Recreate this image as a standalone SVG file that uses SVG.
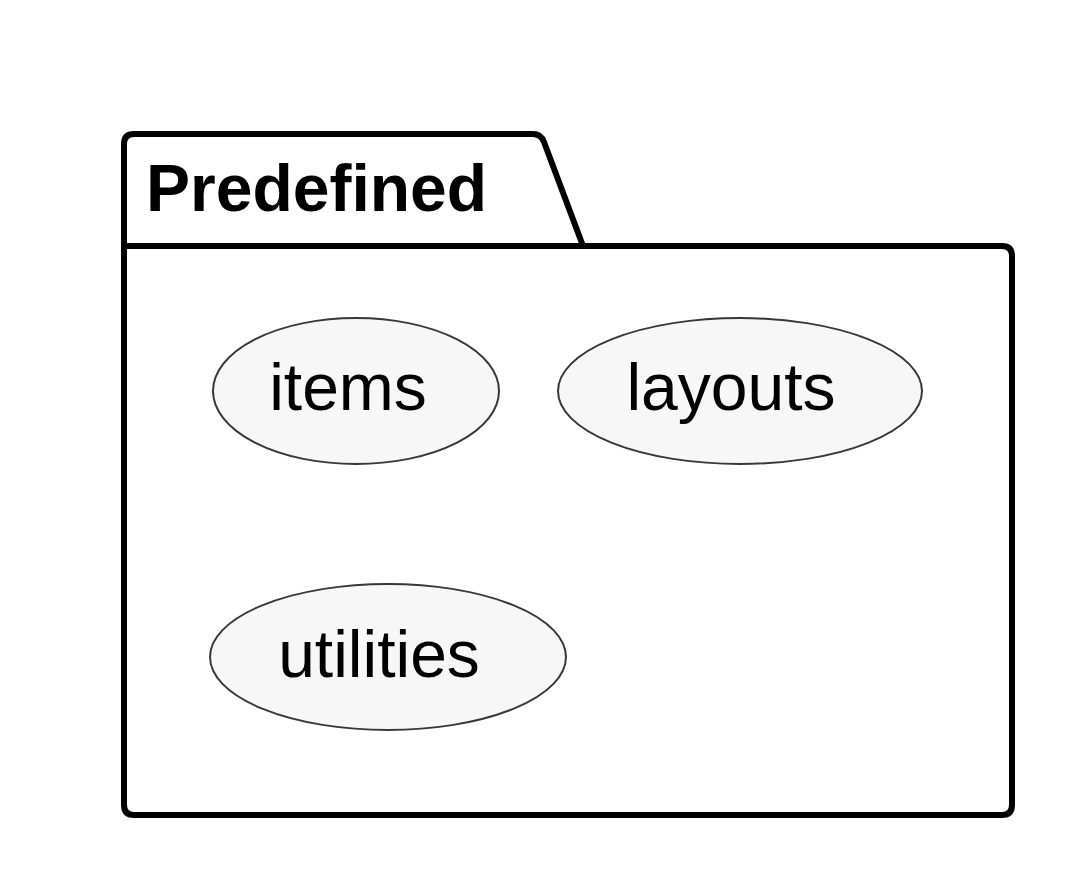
<svg xmlns="http://www.w3.org/2000/svg" width="1076" height="882" viewBox="0 0 1076 882">
<style>
.pkg{fill:#ffffff;stroke:#000;stroke-width:6;stroke-linejoin:round}
.uc{fill:#f7f7f7;stroke:#383838;stroke-width:2}
.lbl{font-family:"Liberation Sans",Arial,sans-serif;font-size:66px;fill:#000;text-anchor:middle}
.title{font-family:"Liberation Sans",Arial,sans-serif;font-size:66px;font-weight:bold;fill:#000}
</style>
<rect width="1076" height="882" fill="#ffffff"/>
<g id="package-predefined">
<path class="pkg" d="M124,246 L124,144 Q124,134 134,134 L533,134 Q541,134 544,142 L583,246 L1002,246 Q1012,246 1012,256 L1012,805 Q1012,815 1002,815 L134,815 Q124,815 124,805 Z"/>
<line x1="124" y1="246" x2="583" y2="246" stroke="#000" stroke-width="6"/>
<text class="title" x="146" y="211">Predefined</text>
</g>
<g id="node-items">
<ellipse class="uc" cx="356" cy="391" rx="143" ry="73"/>
<text class="lbl" x="348" y="410">items</text>
</g>
<g id="node-layouts">
<ellipse class="uc" cx="740" cy="391" rx="182" ry="73"/>
<text class="lbl" x="731" y="410">layouts</text>
</g>
<g id="node-utilities">
<ellipse class="uc" cx="388" cy="657" rx="178" ry="73"/>
<text class="lbl" x="379" y="677">utilities</text>
</g>
<g id="connectors"></g>
</svg>
